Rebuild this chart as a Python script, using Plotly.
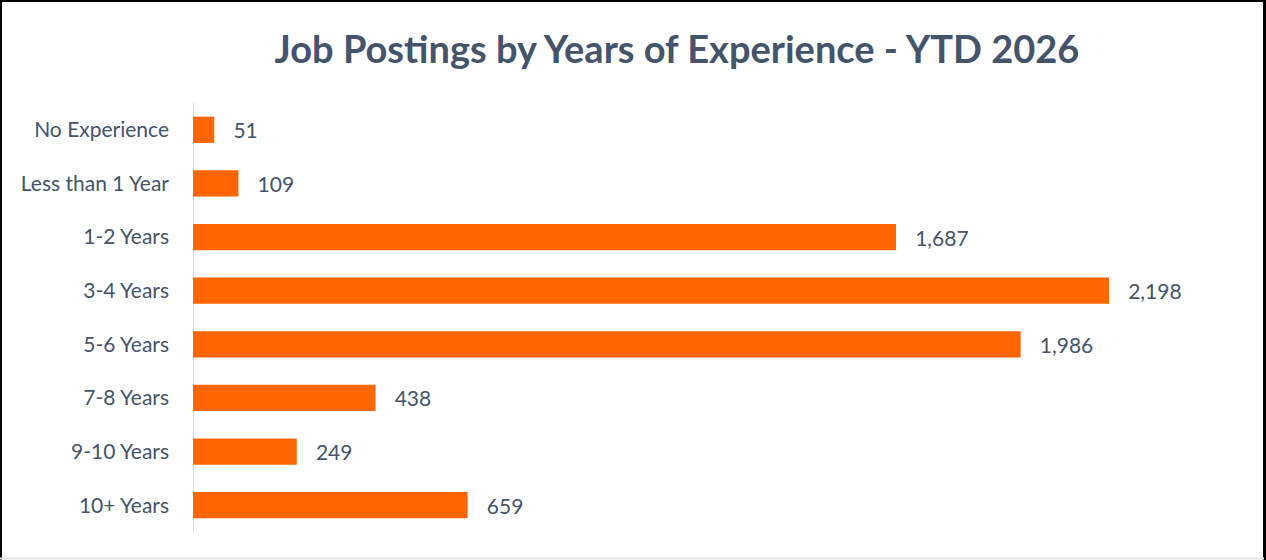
import plotly.graph_objects as go

categories = ["No Experience", "Less than 1 Year", "1-2 Years", "3-4 Years",
              "5-6 Years", "7-8 Years", "9-10 Years", "10+ Years"]
postings = [51, 109, 1687, 2198, 1986, 438, 249, 659]
title_text = "Job Postings by Years of Experience - YTD 2026"

W, H = 1266, 560
ML, MR, MT, MB = 193, 73, 103, 28
PW, PH = W - ML - MR, H - MT - MB
TXT = "#44546A"
FONT = "Lato"

def px_x(p):
    return (p - ML) / PW

def px_y(p):
    return (H - MB - p) / PH

fig = go.Figure(go.Bar(
    y=categories, x=postings, orientation="h",
    marker=dict(color="#FF6600", line=dict(width=0)),
    width=0.49,
    text=[f"{v:,}" for v in postings],
    texttemplate="   %{text}",
    textposition="outside",
    textfont=dict(family=FONT, size=21, color=TXT),
    cliponaxis=False,
    hoverinfo="skip",
))

shapes = [
    dict(type="line", xref="paper", yref="paper", x0=px_x(1), x1=px_x(1), y0=px_y(0), y1=px_y(H), line=dict(color="#000000", width=2)),
    dict(type="line", xref="paper", yref="paper", x0=px_x(0), x1=px_x(W), y0=px_y(1), y1=px_y(1), line=dict(color="#000000", width=2)),
    dict(type="line", xref="paper", yref="paper", x0=px_x(1264.5), x1=px_x(1264.5), y0=px_y(0), y1=px_y(H), line=dict(color="#000000", width=3)),
    dict(type="line", xref="paper", yref="paper", x0=px_x(0), x1=px_x(1264), y0=px_y(558.5), y1=px_y(558.5), line=dict(color="#E6E6E6", width=2)),
]

fig.update_layout(
    width=W, height=H,
    margin=dict(l=ML, r=MR, t=MT, b=MB),
    paper_bgcolor="white", plot_bgcolor="white",
    showlegend=False,
    title=dict(text=f"<b>{title_text}</b>", x=677 / W, xanchor="center",
               y=1 - 50 / H, yanchor="middle",
               font=dict(family=FONT, size=38, color=TXT)),
    xaxis=dict(range=[0, PW / (916 / 2198)], visible=False, fixedrange=True),
    yaxis=dict(autorange="reversed", showgrid=False, zeroline=False,
               showline=False, ticks="", ticklabelstandoff=23, fixedrange=True,
               tickfont=dict(family=FONT, size=21, color=TXT)),
    shapes=shapes,
    font=dict(family=FONT),
)
fig.add_shape(type="line", xref="x", yref="paper", x0=0, x1=0, y0=0, y1=1,
              line=dict(color="#D9DEE6", width=2), layer="below")

fig.write_html("out.html", config={"displayModeBar": False},
               post_script="document.body.style.margin='0';document.body.style.padding='0';")
